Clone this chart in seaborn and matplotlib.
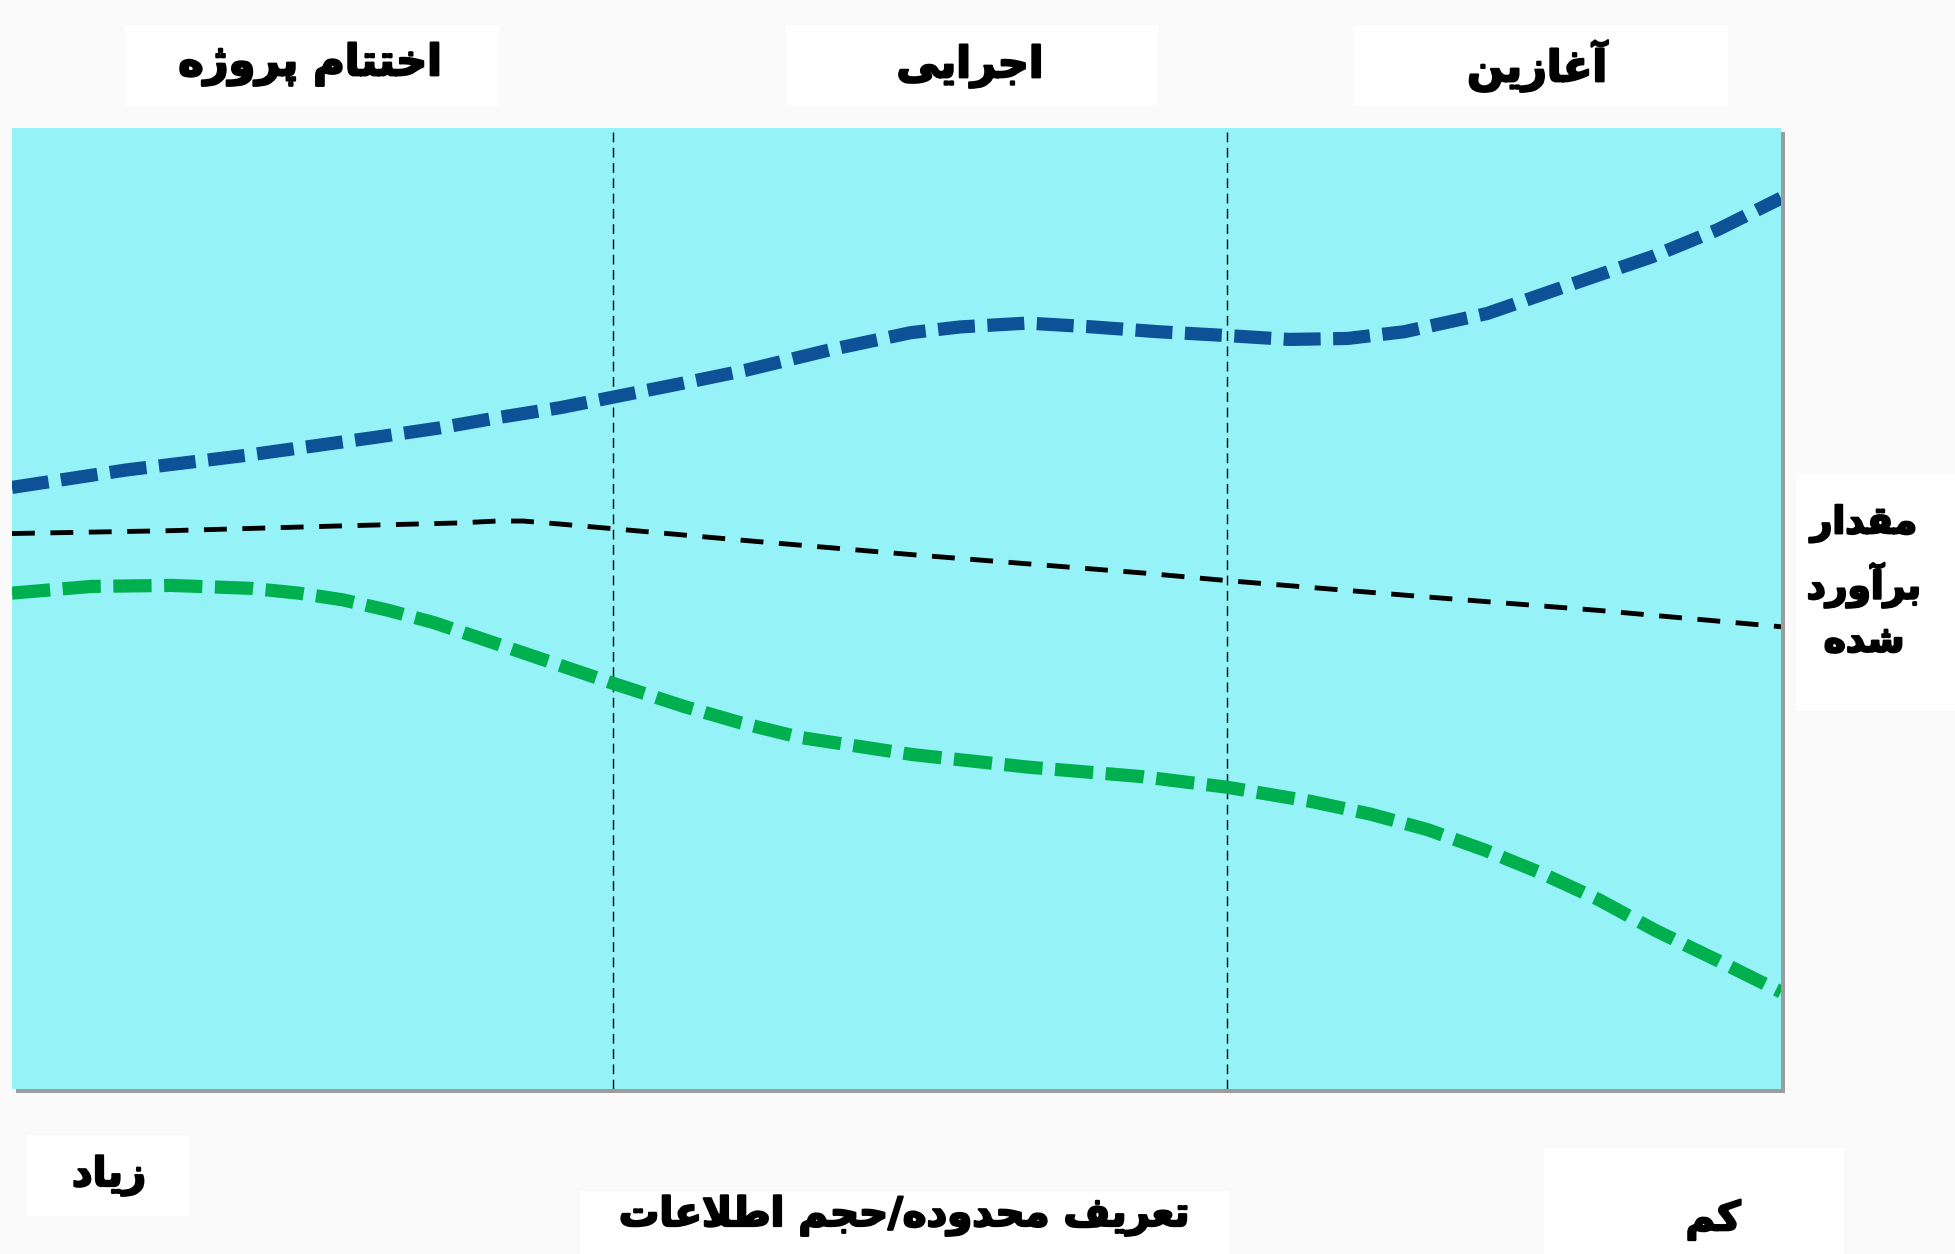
import matplotlib
matplotlib.use("Agg")
import matplotlib.pyplot as plt
import matplotlib.patheffects as pe
from matplotlib.patches import Rectangle
import seaborn as sns
import pandas as pd

# ---------------- data ----------------
# x: position along "scope definition / amount of information" (0 = left, 100 = right)
# y: estimate value (0 = bottom, 100 = top)
upper_x = [0, 6.4, 13.5, 20.5, 24.2, 27.6, 31.0, 34.0, 37.8, 41.5, 46.2, 50.8, 53.6, 57.4,
           61.1, 64.8, 68.7, 72.2, 75.5, 78.7, 83.4, 88.1, 92.7, 96.4, 100]
upper_y = [62.6, 64.4, 66.0, 67.8, 68.8, 69.9, 70.9, 72.0, 73.4, 74.8, 76.9, 78.7, 79.3, 79.7,
           79.3, 78.8, 78.4, 78.0, 78.1, 78.8, 80.7, 83.7, 86.6, 89.4, 92.7]

estimate_x = [0, 9.0, 18.7, 25.2, 27.4, 28.9, 30.9, 34.0, 41.3, 50.9, 63.9, 68.7, 80.0, 89.7, 100]
estimate_y = [57.8, 58.1, 58.6, 58.9, 59.1, 59.1, 58.8, 58.3, 57.1, 55.6, 53.7, 52.9, 51.2, 49.8, 48.1]

lower_x = [0, 4.5, 9.0, 13.5, 16.2, 18.7, 21.3, 23.9, 28.4, 34.0, 38.0, 41.2, 44.5, 50.9,
           57.4, 63.9, 68.7, 73.5, 76.8, 80.0, 83.2, 86.4, 89.7, 92.9, 96.5, 100]
lower_y = [51.6, 52.3, 52.4, 52.1, 51.6, 50.9, 49.8, 48.5, 45.7, 42.2, 39.8, 38.1, 36.6, 34.8,
           33.5, 32.5, 31.4, 29.9, 28.6, 27.0, 24.9, 22.5, 19.7, 16.5, 13.3, 10.1]

phase_bounds = [34.0, 68.7]
phase_labels = ["اختتام پروژه", "اجرایی", "آغازین"]
y_label_lines = ["مقدار", "برآورد", "شده"]
x_label = "تعریف محدوده/حجم اطلاعات"
x_left_label = "زیاد"
x_right_label = "کم"

# ---------------- minimal Arabic/Persian shaping ----------------
FORMS = {
    "\u0627": ("\uFE8D", "\uFE8E", None, None),      # alef
    "\u0622": ("\uFE81", "\uFE82", None, None),      # alef madda
    "\u0628": ("\uFE8F", "\uFE90", "\uFE91", "\uFE92"),
    "\u067E": ("\uFB56", "\uFB57", "\uFB58", "\uFB59"),
    "\u062A": ("\uFE95", "\uFE96", "\uFE97", "\uFE98"),
    "\u062C": ("\uFE9D", "\uFE9E", "\uFE9F", "\uFEA0"),
    "\u062D": ("\uFEA1", "\uFEA2", "\uFEA3", "\uFEA4"),
    "\u062E": ("\uFEA5", "\uFEA6", "\uFEA7", "\uFEA8"),
    "\u062F": ("\uFEA9", "\uFEAA", None, None),
    "\u0631": ("\uFEAD", "\uFEAE", None, None),
    "\u0632": ("\uFEAF", "\uFEB0", None, None),
    "\u0698": ("\uFB8A", "\uFB8B", None, None),
    "\u0634": ("\uFEB5", "\uFEB6", "\uFEB7", "\uFEB8"),
    "\u0637": ("\uFEC1", "\uFEC2", "\uFEC3", "\uFEC4"),
    "\u0639": ("\uFEC9", "\uFECA", "\uFECB", "\uFECC"),
    "\u063A": ("\uFECD", "\uFECE", "\uFECF", "\uFED0"),
    "\u0641": ("\uFED1", "\uFED2", "\uFED3", "\uFED4"),
    "\u0642": ("\uFED5", "\uFED6", "\uFED7", "\uFED8"),
    "\u06A9": ("\uFB8E", "\uFB8F", "\uFB90", "\uFB91"),
    "\u0644": ("\uFEDD", "\uFEDE", "\uFEDF", "\uFEE0"),
    "\u0645": ("\uFEE1", "\uFEE2", "\uFEE3", "\uFEE4"),
    "\u0646": ("\uFEE5", "\uFEE6", "\uFEE7", "\uFEE8"),
    "\u0648": ("\uFEED", "\uFEEE", None, None),
    "\u0647": ("\uFEE9", "\uFEEA", "\uFEEB", "\uFEEC"),
    "\u06CC": ("\uFBFC", "\uFBFD", "\uFBFE", "\uFBFF"),
}


def _joins_next(c):
    return c in FORMS and FORMS[c][2] is not None


def shape(text):
    chars = list(text)
    n = len(chars)
    out = []
    i = 0
    while i < n:
        c = chars[i]
        if c not in FORMS:
            out.append(c)
            i += 1
            continue
        prev = chars[i - 1] if i > 0 else None
        cp = prev is not None and _joins_next(prev)
        if c == "\u0644" and i + 1 < n and chars[i + 1] in ("\u0627", "\u0622"):
            iso, fin = ("\uFEFB", "\uFEFC") if chars[i + 1] == "\u0627" else ("\uFEF5", "\uFEF6")
            out.append(fin if cp else iso)
            i += 2
            continue
        nxt = chars[i + 1] if i + 1 < n else None
        cn = _joins_next(c) and nxt is not None and nxt in FORMS
        iso, fin, ini, med = FORMS[c]
        if cp and cn:
            out.append(med)
        elif cp:
            out.append(fin)
        elif cn:
            out.append(ini)
        else:
            out.append(iso)
        i += 1
    return "".join(reversed(out))


# ---------------- figure ----------------
sns.set_style("white")
plt.rcParams["font.family"] = ["DejaVu Sans"]

W, H = 1956, 1254
fig = plt.figure(figsize=(W / 100, H / 100), dpi=100)
fig.patch.set_facecolor("#FAFAFA")


def fx(px):
    return px / W


def fy(py):
    return 1 - py / H


# plot area in pixels
L, R, T, B = 12, 1781, 128, 1089
ax = fig.add_axes([fx(L), fy(B), fx(R - L), fy(T) - fy(B)])
ax.set_facecolor("#95F3F8")
ax.set_zorder(1)

# drop shadow behind the plot area
fig.add_artist(Rectangle((fx(L + 4), fy(B + 4)), fx(R - L), fy(T) - fy(B),
                         transform=fig.transFigure, facecolor="#9C9C9C",
                         edgecolor="none", zorder=0))

# white label boxes
boxes = [(125, 25, 499, 106), (786, 25, 1158, 106), (1353, 25, 1728, 106),
         (1796, 474, 1956, 711), (27, 1135, 190, 1216), (580, 1191, 1229, 1254),
         (1544, 1148, 1844, 1254)]
for x0, y0, x1, y1 in boxes:
    fig.add_artist(Rectangle((fx(x0), fy(y1)), fx(x1 - x0), fy(y0) - fy(y1),
                             transform=fig.transFigure, facecolor="white",
                             edgecolor="none", zorder=0))

# phase separators
for xb in phase_bounds:
    ax.axvline(xb, color="black", lw=1.0, dashes=(7, 4), zorder=2)

# curves
df_up = pd.DataFrame({"x": upper_x, "y": upper_y})
df_est = pd.DataFrame({"x": estimate_x, "y": estimate_y})
df_low = pd.DataFrame({"x": lower_x, "y": lower_y})

sns.lineplot(data=df_up, x="x", y="y", ax=ax, color="#0D5197", lw=9.5, zorder=3)
ax.lines[-1].set_dashes((2.8, 0.95))
sns.lineplot(data=df_est, x="x", y="y", ax=ax, color="black", lw=3.5, zorder=3)
ax.lines[-1].set_dashes((4.7, 3.2))
sns.lineplot(data=df_low, x="x", y="y", ax=ax, color="#00B04F", lw=9.5, zorder=3)
ax.lines[-1].set_dashes((2.9, 0.95))
for ln in ax.lines[-3:]:
    ln.set_dash_joinstyle("round")

ax.set_xlim(0, 100)
ax.set_ylim(0, 100)
ax.set_xticks([])
ax.set_yticks([])
ax.set_xlabel("")
ax.set_ylabel("")
for s in ax.spines.values():
    s.set_visible(False)

# texts (heavy bold look)
heavy = [pe.withStroke(linewidth=1.6, foreground="black")]
tkw = dict(ha="center", va="center", fontweight="bold", color="black", zorder=5,
           path_effects=heavy)
phase_px = [(310, 64), (970, 66), (1537, 66)]
for lab, (px, py) in zip(phase_labels, phase_px):
    fig.text(fx(px), fy(py), shape(lab), fontsize=31, **tkw)

fig.text(fx(1864), fy(582), "\n".join(shape(s) for s in y_label_lines),
         fontsize=27, linespacing=1.55, **tkw)
fig.text(fx(109), fy(1176), shape(x_left_label), fontsize=29, **tkw)
fig.text(fx(904), fy(1216), shape(x_label), fontsize=29, **tkw)
fig.text(fx(1713), fy(1220), shape(x_right_label), fontsize=29, **tkw)

fig.savefig("out.png", dpi=100, facecolor=fig.get_facecolor())
